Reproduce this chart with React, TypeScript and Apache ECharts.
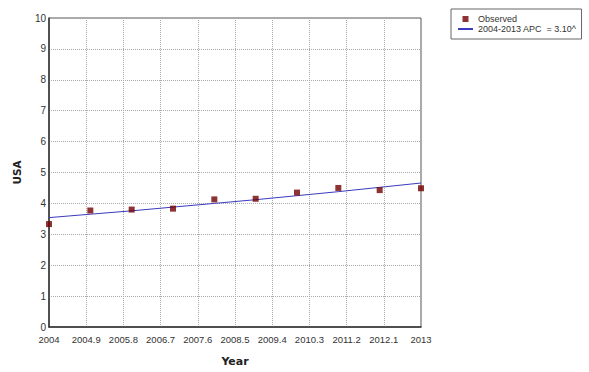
import React, { useEffect, useRef } from "react";
import * as echarts from "echarts";

const baseYear = 2004;
const years = [2004, 2005, 2006, 2007, 2008, 2009, 2010, 2011, 2012, 2013];
const observed = [3.33, 3.77, 3.8, 3.83, 4.13, 4.15, 4.35, 4.5, 4.43, 4.49];
const fitted = [3.54, 3.65, 3.76, 3.88, 4.0, 4.12, 4.25, 4.38, 4.52, 4.66];
const observedName = "Observed";
const fitName = "2004-2013 APC  = 3.10^";

const tickFont = "'Liberation Sans Narrow', 'Arial Narrow', 'Liberation Sans', Arial, sans-serif";
const titleFont = "'DejaVu Sans', Verdana, sans-serif";

export default function App() {
  const ref = useRef<HTMLDivElement>(null);
  useEffect(() => {
    if (!ref.current) return;
    const chart = echarts.init(ref.current, undefined, { renderer: "svg" });
    chart.setOption({
      animation: false,
      backgroundColor: "#ffffff",
      grid: {
        left: 49,
        top: 18,
        width: 372,
        height: 318,
        show: true,
        borderColor: "#555",
        borderWidth: 1,
        backgroundColor: "transparent",
      },
      legend: {
        orient: "vertical",
        left: 451,
        top: 9,
        padding: [5, 5, 5, 7],
        itemGap: 0,
        itemWidth: 15,
        itemHeight: 6,
        borderColor: "#666",
        borderWidth: 1,
        textStyle: { fontFamily: tickFont, fontSize: 9, color: "#333", lineHeight: 10 },
        data: [
          { name: observedName, icon: "path://M0,0h10v10h-10z" },
          { name: fitName, icon: "path://M0,0h15v2h-15z" },
        ],
      },
      xAxis: {
        type: "value",
        min: 0,
        max: 9,
        interval: 0.9,
        name: "Year",
        nameLocation: "middle",
        nameGap: 29,
        nameTextStyle: { fontFamily: titleFont, fontWeight: "bold", fontSize: 11, color: "#222" },
        axisLine: { show: true, lineStyle: { color: "#333", width: 1.5 } },
        axisTick: { show: false },
        axisLabel: {
          margin: 7,
          fontFamily: tickFont,
          fontSize: 9.5,
          color: "#333",
          formatter: (v: number) => String(Math.round((baseYear + v) * 10) / 10),
        },
        splitLine: { show: true, lineStyle: { type: "dotted", color: "#aaa", width: 1 } },
      },
      yAxis: {
        type: "value",
        min: 0,
        max: 10,
        interval: 1,
        name: "USA",
        nameLocation: "middle",
        nameGap: 27,
        nameTextStyle: { fontFamily: titleFont, fontWeight: "bold", fontSize: 10.5, color: "#222" },
        axisLine: { show: true, lineStyle: { color: "#333", width: 1.5 } },
        axisTick: { show: false },
        axisLabel: { margin: 3, fontFamily: tickFont, fontSize: 10, color: "#333" },
        splitLine: { show: true, lineStyle: { type: "dotted", color: "#aaa", width: 1 } },
      },
      series: [
        {
          name: fitName,
          type: "line",
          data: years.map((y, i) => [y - baseYear, fitted[i]]),
          symbol: "none",
          lineStyle: { color: "#3a3abf", width: 1 },
          itemStyle: { color: "#3a3abf" },
          z: 2,
        },
        {
          name: observedName,
          type: "scatter",
          data: years.map((y, i) => [y - baseYear, observed[i]]),
          symbol: "rect",
          symbolSize: 6,
          itemStyle: { color: "#720000" },
          z: 3,
        },
      ],
    });
    return () => chart.dispose();
  }, []);
  return (
    <div
      ref={ref}
      style={{ position: "fixed", left: 0, top: 0, width: 589, height: 372 }}
    />
  );
}
